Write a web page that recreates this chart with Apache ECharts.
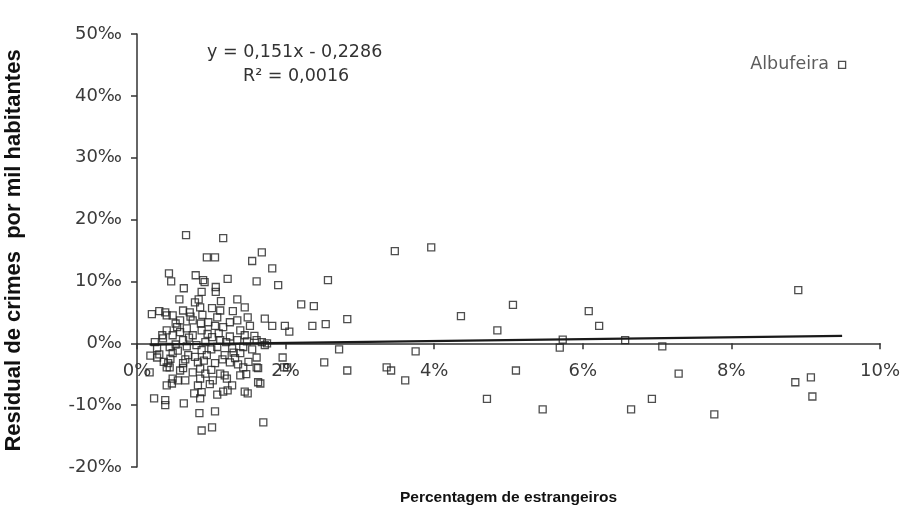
<!DOCTYPE html>
<html>
<head>
<meta charset="utf-8">
<script src="https://cdn.jsdelivr.net/npm/echarts@6/dist/echarts.min.js"></script>
<style>
  html, body { margin: 0; padding: 0; background: #fff; }
  #chart { width: 905px; height: 509px; }
</style>
</head>
<body>
<div id="chart"></div>
<script>
// Share of foreign residents (%) per municipality
const foreignShare = [
  0.66, 1.16, 0.94, 1.05, 1.68, 1.55, 1.82, 0.43, 0.46, 0.79,
  0.89, 0.91, 1.22, 1.61, 1.90, 1.06, 0.63, 0.87, 1.06, 0.57,
  0.78, 0.83, 1.13, 1.35, 0.85, 1.01, 1.12, 1.29, 1.45, 0.30,
  0.38, 0.40, 0.48, 0.62, 0.71, 1.49, 1.72, 1.82, 1.99, 2.05,
  1.35, 1.25, 1.08, 0.96, 0.86, 0.75, 0.58, 0.54, 0.40, 0.67,
  0.87, 1.16, 1.39, 1.52, 0.34, 0.48, 0.75, 1.01, 1.25, 1.45,
  1.61, 0.24, 0.62, 0.92, 1.12, 1.35, 1.48, 0.27, 0.44, 0.67,
  0.87, 1.08, 1.28, 1.43, 0.27, 0.48, 0.69, 0.94, 1.18, 1.39,
  1.61, 0.42, 0.62, 0.82, 1.05, 1.25, 1.43, 1.61, 1.96, 0.40,
  0.44, 0.17, 0.58, 0.75, 0.92, 1.12, 1.18, 1.39, 1.47, 1.63,
  0.48, 0.65, 0.85, 1.02, 1.21, 0.40, 0.47, 0.55, 0.82, 0.98,
  1.28, 1.63, 1.66, 0.77, 0.87, 1.08, 1.16, 1.22, 1.45, 1.49,
  0.23, 0.38, 0.38, 0.63, 0.85, 0.84, 1.05, 0.87, 1.01, 1.70,
  0.35, 0.52, 0.58, 0.70, 0.80, 0.95, 1.00, 1.10, 1.20, 1.30,
  0.45, 0.55, 0.65, 0.78, 0.90, 1.15, 1.32, 1.55, 1.58, 0.72,
  0.88, 1.05, 0.62, 0.85, 1.00, 0.52, 0.30, 0.36, 1.36, 1.50,
  1.68, 1.75, 1.72, 0.20, 0.18,
  2.57, 2.21, 2.38, 2.36, 2.54, 2.83, 3.47, 3.96, 4.36, 2.72,
  3.75, 1.98, 2.02, 2.52, 2.83, 3.36, 3.42, 3.61, 5.06, 4.85,
  6.08, 6.22, 5.73, 5.69, 6.57, 7.07, 5.10, 4.71, 5.46, 6.65,
  6.93, 7.29, 7.77, 8.90, 8.86, 9.07, 9.09
];

// Residual crime rate (per thousand inhabitants), same order
const crimeResidual = [
  17.5, 17.0, 13.9, 13.9, 14.7, 13.3, 12.1, 11.3, 10.0, 11.0,
  10.2, 9.9, 10.4, 10.0, 9.4, 9.1, 8.9, 8.3, 8.3, 7.1,
  6.6, 7.1, 6.8, 7.1, 5.8, 5.7, 5.3, 5.2, 5.8, 5.2,
  5.0, 4.5, 4.5, 5.3, 5.0, 4.2, 4.0, 2.8, 2.8, 1.9,
  3.7, 3.4, 4.2, 3.4, 3.2, 3.7, 3.7, 2.6, 2.1, 2.4,
  2.1, 2.6, 2.1, 2.8, 1.3, 1.3, 1.3, 1.0, 1.1, 1.3,
  0.5, 0.2, 0.5, 0.2, 0.5, 0.5, 0.3, -0.8, -0.6, -0.5,
  -1.1, -0.6, -0.8, -0.6, -2.3, -1.6, -1.9, -1.9, -1.9, -1.6,
  -2.3, -3.2, -3.2, -3.1, -3.2, -3.1, -3.9, -3.9, -2.3, -3.9,
  -3.9, -4.7, -4.4, -4.7, -4.9, -4.9, -5.2, -5.2, -5.0, -4.0,
  -5.7, -6.0, -5.7, -6.0, -5.7, -6.8, -6.5, -6.0, -6.8, -6.6,
  -6.8, -6.3, -6.5, -8.1, -7.9, -8.3, -7.8, -7.6, -7.8, -8.1,
  -8.9, -9.2, -10.0, -9.7, -8.9, -11.3, -11.0, -14.1, -13.6, -12.8,
  0.8, -0.2, 1.8, 0.9, -0.3, 1.5, -1.0, 1.6, 0.2, -1.5,
  -2.5, -1.2, -2.6, -2.2, -2.8, -2.6, -2.4, -1.0, 1.2, 4.3,
  4.6, 2.8, -4.0, -4.1, -4.3, 3.2, -1.8, -3.0, -3.4, -3.0,
  0.2, 0.0, -0.3, 4.7, -2.0,
  10.2, 6.3, 6.0, 2.8, 3.1, 3.9, 14.9, 15.5, 4.4, -1.0,
  -1.3, -3.9, -3.9, -3.1, -4.4, -3.9, -4.4, -6.0, 6.2, 2.1,
  5.2, 2.8, 0.6, -0.7, 0.5, -0.5, -4.4, -9.0, -10.7, -10.7,
  -9.0, -4.9, -11.5, 8.6, -6.3, -5.5, -8.6
];

// Named outlier
const outlierName = 'Albufeira';
const outlierShare = 9.49;
const outlierResidual = 45.0;

// Linear trend fitted to the residuals
const TREND_SLOPE = 0.151;
const TREND_INTERCEPT = -0.2286;
const TREND_R2 = 0.0016;

// Axis ranges and tick steps
const xTicks = { min: 0, max: 10, step: 2 };
const yTicks = { min: -20, max: 50, step: 10 };

const allX = foreignShare.concat([outlierShare]);
const xLo = Math.min.apply(null, allX);
const xHi = Math.max.apply(null, allX);
const trendPoints = [
  [xLo, TREND_SLOPE * xLo + TREND_INTERCEPT],
  [xHi, TREND_SLOPE * xHi + TREND_INTERCEPT]
];

const points = foreignShare.map((x, i) => [x, crimeResidual[i]]);
points.push({
  value: [outlierShare, outlierResidual],
  label: {
    show: true,
    position: 'left',
    distance: 9,
    formatter: outlierName,
    fontFamily: 'DejaVu Sans',
    fontSize: 17.5,
    color: '#333'
  }
});

const comma = (v) => String(v).replace('.', ',');
const eqText = 'y = ' + comma(TREND_SLOPE) + 'x ' +
  (TREND_INTERCEPT < 0 ? '- ' : '+ ') + comma(Math.abs(TREND_INTERCEPT));
const r2Text = 'R² = ' + comma(TREND_R2.toFixed(4));

// Plot box (pixels) — the category axis crosses the value axis at zero
const plot = { left: 137, right: 25, top: 34, bottom: 42, height: 509 - 34 - 42 };
const zeroOffset = plot.height * (0 - yTicks.min) / (yTicks.max - yTicks.min);

const tickFont = { fontFamily: 'DejaVu Sans', fontSize: 18, color: '#3a3a3a' };
const axisStroke = { color: '#333', width: 1.5 };

const chart = echarts.init(document.getElementById('chart'), null, { renderer: 'canvas' });
chart.setOption({
  animation: false,
  backgroundColor: '#fff',
  grid: { left: plot.left, right: plot.right, top: plot.top, bottom: plot.bottom, containLabel: false, outerBoundsMode: 'none' },
  xAxis: {
    type: 'value',
    position: 'bottom',
    offset: -zeroOffset,
    min: xTicks.min, max: xTicks.max, interval: xTicks.step,
    axisLine: { show: true, onZero: false, lineStyle: axisStroke },
    axisTick: { show: true, length: 6, lineStyle: axisStroke },
    axisLabel: Object.assign({ margin: 19, formatter: (v) => v + '%' }, tickFont),
    splitLine: { show: false },
    name: 'Percentagem de estrangeiros',
    nameLocation: 'middle',
    nameGap: 146,
    nameTextStyle: { fontFamily: 'Liberation Sans', fontWeight: 'bold', fontSize: 15.5, color: '#111' }
  },
  yAxis: {
    type: 'value',
    min: yTicks.min, max: yTicks.max, interval: yTicks.step,
    axisLine: { show: true, lineStyle: axisStroke },
    axisTick: { show: true, length: 6, lineStyle: axisStroke },
    axisLabel: Object.assign({ margin: 15, formatter: (v) => v + '‰' }, tickFont),
    splitLine: { show: false },
    name: 'Residual de crimes  por mil habitantes',
    nameLocation: 'middle',
    nameRotate: 90,
    nameGap: 112,
    nameTextStyle: { fontFamily: 'Liberation Sans', fontWeight: 'bold', fontSize: 22, color: '#111' }
  },
  series: [
    {
      type: 'scatter',
      symbol: 'rect',
      symbolSize: 7,
      silent: true,
      itemStyle: { color: 'rgba(0,0,0,0)', borderColor: '#222', borderWidth: 1.3 },
      data: points,
      z: 2
    },
    {
      type: 'line',
      silent: true,
      symbol: 'none',
      lineStyle: { color: '#1a1a1a', width: 2.2 },
      data: trendPoints,
      z: 3
    }
  ],
  graphic: [
    {
      type: 'text',
      left: 207, top: 43,
      style: { text: eqText, fontFamily: 'DejaVu Sans', fontSize: 17.5, fill: '#333' }
    },
    {
      type: 'text',
      left: 243, top: 67,
      style: { text: r2Text, fontFamily: 'DejaVu Sans', fontSize: 17.5, fill: '#333' }
    }
  ]
});
</script>
</body>
</html>
